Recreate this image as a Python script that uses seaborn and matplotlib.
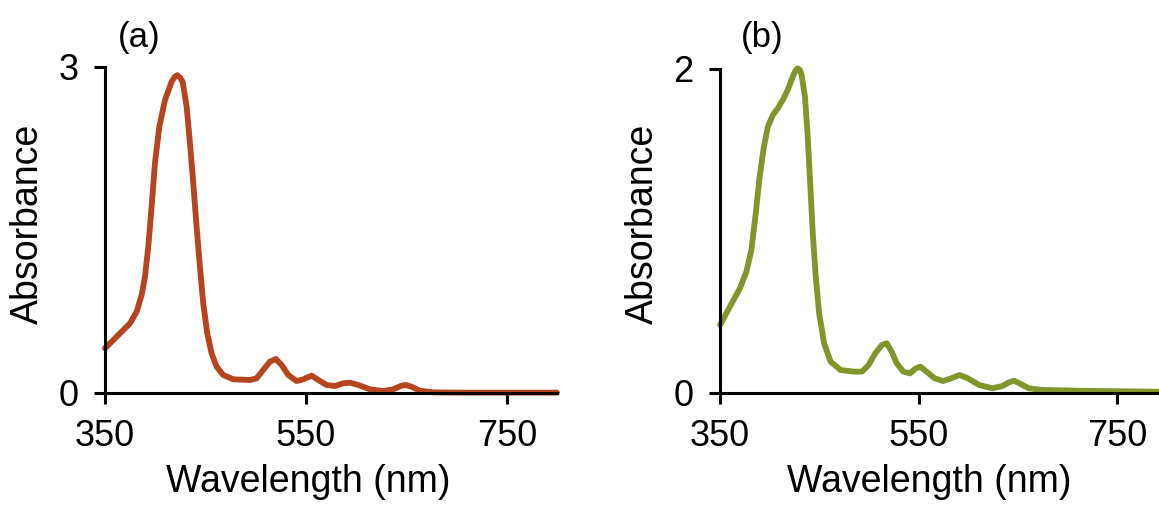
import numpy as np
import pandas as pd
import matplotlib
matplotlib.use("Agg")
import matplotlib.pyplot as plt
import seaborn as sns

sns.set_theme(style="ticks")
plt.rcParams["font.family"] = ["Liberation Sans", "DejaVu Sans"]
plt.rcParams["text.color"] = "black"
plt.rcParams["axes.labelcolor"] = "black"
plt.rcParams["xtick.color"] = "black"
plt.rcParams["ytick.color"] = "black"

# Spectrum (a): wavelength (nm) and absorbance
wl_a = [350, 361.6, 374.9, 381.5, 386.5, 389.8, 393.1, 396.4, 399.7, 404.1, 409.7, 416.3,
        419.5, 422.0, 424.5, 427.3, 431.3, 434.6, 437.9, 441.2, 444.5, 447.8, 451.8, 456.1,
        461.1, 467.7, 477.7, 494.3, 500.9, 507.5, 514.2, 520.1, 525.8, 532.4, 540.7, 547.3,
        555.6, 562.3, 570.6, 578.9, 587.1, 593.8, 602.1, 613.7, 626.9, 636.9, 645.2, 649.5,
        655.1, 663.4, 676.7, 709.8, 800]
abs_a = [0.411, 0.518, 0.641, 0.748, 0.902, 1.070, 1.346, 1.714, 2.113, 2.450, 2.695, 2.864,
         2.910, 2.925, 2.905, 2.864, 2.634, 2.297, 1.929, 1.530, 1.162, 0.825, 0.549, 0.365,
         0.242, 0.166, 0.126, 0.120, 0.135, 0.212, 0.288, 0.313, 0.258, 0.166, 0.110, 0.126,
         0.160, 0.120, 0.074, 0.064, 0.089, 0.095, 0.074, 0.034, 0.018, 0.034, 0.067, 0.074,
         0.058, 0.021, 0.006, 0.003, 0.003]

# Spectrum (b): wavelength (nm) and absorbance
wl_b = [350, 360, 370, 376.6, 381.6, 385.6, 389.9, 394.2, 398.2, 403.2, 408.2, 413.2,
        418.2, 423.2, 426.0, 428.2, 430.3, 432.2, 435.5, 438.1, 440.8, 443.4, 446.4, 449.8,
        454.8, 461.4, 471.4, 484.7, 493.0, 499.6, 506.3, 512.9, 517.9, 522.9, 527.9, 534.5,
        541.2, 547.2, 551.8, 557.8, 566.1, 574.4, 582.8, 591.1, 599.4, 611.0, 624.3, 634.3,
        641.0, 646.0, 652.6, 660.9, 674.2, 710.8, 787.3, 800]
abs_b = [0.420, 0.533, 0.646, 0.749, 0.883, 1.088, 1.335, 1.520, 1.644, 1.716, 1.757, 1.809,
         1.870, 1.953, 1.990, 2.004, 1.995, 1.963, 1.829, 1.603, 1.294, 0.986, 0.718, 0.492,
         0.307, 0.193, 0.142, 0.132, 0.132, 0.173, 0.245, 0.296, 0.307, 0.255, 0.183, 0.132,
         0.121, 0.152, 0.163, 0.132, 0.091, 0.074, 0.091, 0.111, 0.091, 0.049, 0.029, 0.043,
         0.066, 0.076, 0.056, 0.029, 0.019, 0.014, 0.008, 0.008]

x_ticks = [350, 550, 750]

W, H = 1159, 508
panels = [
    # tag, x, y, colour, y ticks, axes rect (px: left, bottom, right, top),
    # xlabel x, ylabel x, tag position
    ("(a)", wl_a, abs_a, "#B5441F", [0, 3], (105, 393, 557, 67), 0.450, -0.170, (139, 37)),
    ("(b)", wl_b, abs_b, "#80962A", [0, 2], (720, 393, 1167, 69), 0.468, -0.173, (762, 38)),
]

fig = plt.figure(figsize=(W / 100, H / 100), dpi=100)
for tag, wl, ab, color, yt, (l, b, r, t), xlx, ylx, (tx, ty) in panels:
    ax = fig.add_axes([l / W, 1 - b / H, (r - l) / W, (b - t) / H])
    df = pd.DataFrame({"Wavelength": wl, "Absorbance": ab})
    sns.lineplot(data=df, x="Wavelength", y="Absorbance", ax=ax, color=color,
                 linewidth=4.2, sort=False, clip_on=False)
    for ln in ax.get_lines():
        ln.set_solid_joinstyle("round")
        ln.set_solid_capstyle("round")
    ax.set_xlim(350, 800)
    ax.set_ylim(yt[0], yt[1])
    ax.set_xticks(x_ticks)
    ax.set_yticks(yt)
    ax.set_xlabel("Wavelength (nm)", fontsize=27, va="top")
    ax.set_ylabel("Absorbance", fontsize=27, va="center", ha="center")
    hpx = b - t
    ax.xaxis.set_label_coords(xlx, (b - 464) / hpx)
    ax.yaxis.set_label_coords(ylx, (b - 224) / hpx)
    ax.tick_params(axis="both", labelsize=26, width=2.2, length=8, color="black",
                   direction="out", pad=11)
    for s in ["top", "right"]:
        ax.spines[s].set_visible(False)
    for s in ["left", "bottom"]:
        ax.spines[s].set_linewidth(2.2)
        ax.spines[s].set_color("black")
    ax.set_facecolor("white")
    fig.text(tx / W, 1 - ty / H, tag, fontsize=25, ha="center", va="center")

fig.savefig("out.png", dpi=100, facecolor="white")
